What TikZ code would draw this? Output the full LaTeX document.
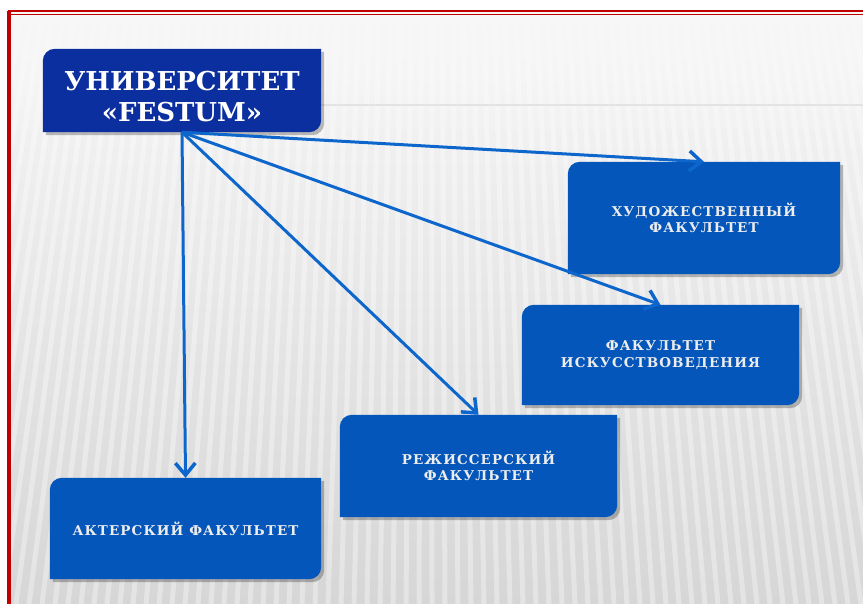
\documentclass[tikz,border=0pt]{standalone}
\usepackage{fontspec}
\setmainfont{DejaVu Serif}
\newfontfamily\facfont[LetterSpace=8]{DejaVu Serif}
\usetikzlibrary{arrows.meta,backgrounds,fadings}
\definecolor{univblue}{HTML}{0B2F9E}
\definecolor{facblue}{HTML}{0456BA}
\definecolor{arrowblue}{HTML}{0D66CC}
\definecolor{framered}{HTML}{C00000}
\definecolor{bgtop}{HTML}{F7F7F7}
\definecolor{bgmid}{HTML}{E6E6E6}
\definecolor{bgbot}{HTML}{D6D6D6}
\definecolor{factext}{HTML}{EDEDED}
\tikzfading[name=fadedown, top color=transparent!0, bottom color=transparent!100]
\tikzstyle{univ}=[text=white, font=\fontsize{26}{31}\selectfont\bfseries, align=center, inner sep=0pt, minimum width=278pt, minimum height=83pt]
\tikzstyle{faculty}=[text=factext, font=\facfont\fontsize{13.5}{16.5}\selectfont\bfseries, align=center, inner sep=0pt]
\tikzstyle{link}=[draw=arrowblue, line width=3pt, -{Straight Barb[length=12pt,width=20pt,line width=3.5pt]}]
% box with two round corners, built on the node's anchors
\newcommand{\cutpath}[1]{(#1.south west) -- ([yshift=-12pt]#1.north west) arc[start angle=180, end angle=90, radius=12pt] -- (#1.north east) -- ([yshift=12pt]#1.south east) arc[start angle=0, end angle=-90, radius=12pt] -- cycle}
\newcommand{\cutbox}[2]{%
  \begin{scope}[transform canvas={shift={(3pt,-3pt)}}]
    \fill[black, opacity=0.25] \cutpath{#1};
  \end{scope}
  \fill[#2] \cutpath{#1};}

\begin{document}
\begin{tikzpicture}[x=1pt, y=-1pt]
	\useasboundingbox (0,0) rectangle (863,604);
	\begin{pgfonlayer}{background}
		\fill[white] (0,0) rectangle (863,604);
		\shade[top color=bgtop, middle color=bgmid, bottom color=bgbot] (9,12) rectangle (863,604);
		\begin{scope}
			\clip (10,15) rectangle (863,604);
			\foreach \xb in {-400,-387,...,1300}
				\draw[white, opacity=.35, line width=5pt] ({431+(\xb-431)*0.81},15) -- (\xb,604);
		\end{scope}
		\fill[bgtop, path fading=fadedown] (10,15) rectangle (863,150);
		\draw[gray!22, line width=1.5pt] (321,105) -- (863,105);
	\end{pgfonlayer}

	\begin{scope}
		\node (0) at (182, 90.5) [univ] {\rule{0pt}{31pt}УНИВЕРСИТЕТ\\«FESTUM»};
		\node (1) at (704, 218) [faculty, minimum width=272pt, minimum height=112pt] {ХУДОЖЕСТВЕННЫЙ\\ФАКУЛЬТЕТ};
		\node (2) at (660.5, 355) [faculty, minimum width=277pt, minimum height=100pt] {ФАКУЛЬТЕТ\\ИСКУССТВОВЕДЕНИЯ};
		\node (3) at (478.5, 466) [faculty, minimum width=277pt, minimum height=102pt] {РЕЖИССЕРСКИЙ\\ФАКУЛЬТЕТ};
		\node (4) at (185.5, 528.5) [faculty, minimum width=271pt, minimum height=101pt] {АКТЕРСКИЙ ФАКУЛЬТЕТ};
	\end{scope}

	\begin{pgfonlayer}{background}
		\cutbox{0}{univblue}
		\cutbox{1}{facblue}
		\cutbox{2}{facblue}
		\cutbox{3}{facblue}
		\cutbox{4}{facblue}
	\end{pgfonlayer}

	\begin{scope}
		\draw [link] (0.south) -- (1.north);
		\draw [link] (0.south) -- (2.north);
		\draw [link] (0.south) -- (3.north);
		\draw [link] (0.south) -- (4.north);
	\end{scope}

	% frame
	\draw[framered, line width=3.5pt] (9,604) -- (9,11);
	\draw[framered, line width=2pt] (7.5,11) -- (863,11);
	\draw[framered, line width=1.6pt] (9,14.5) -- (863,14.5);
\end{tikzpicture}
\end{document}
